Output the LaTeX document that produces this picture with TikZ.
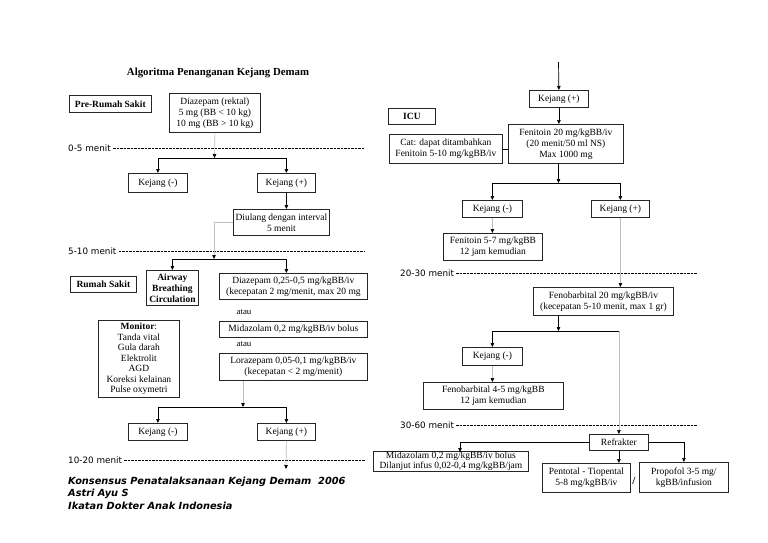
\documentclass[tikz,border=0pt]{standalone}
\usepackage{fontspec}
\setmainfont{Liberation Serif}
\newfontfamily\waktufont{DejaVu Sans}
\usetikzlibrary{positioning,arrows.meta}
\definecolor{abuabu}{gray}{0.75}

\begin{document}
\begin{tikzpicture}[x=1pt, y=-1pt,
    kotak/.style = {draw=black!85, line width=0.8pt, inner sep=1pt, align=center,
                    anchor=north west, font=\fontsize{9.5}{11}\selectfont},
    ukuran/.style 2 args = {minimum width=#1pt, minimum height=#2pt},
    tebal/.style = {font=\fontsize{9.5}{11}\selectfont\bfseries},
    waktu/.style = {anchor=west, inner sep=0pt, font=\waktufont\fontsize{8.8}{10}\selectfont},
    kaki/.style = {anchor=west, inner sep=0pt, font=\waktufont\fontsize{9.8}{11}\selectfont\bfseries\itshape},
    batas/.style = {dash pattern=on 2.5pt off 1pt, line width=0.6pt},
    garis/.style = {line width=0.7pt},
    panah/.style = {line width=0.7pt, -{Triangle[length=4pt,width=3.5pt]}},
    abu/.style = {line width=0.7pt, draw=abuabu, -{Triangle[length=4pt,width=3.5pt,color=black]}},
  ]
    \fill[white] (0,0) rectangle (768,543);
    \useasboundingbox (0,0) rectangle (768,543);

    \node[font=\fontsize{10.8}{12}\selectfont\bfseries] (judul) at (218,73) {Algoritma Penanganan Kejang Demam};

    % kolom kiri
    \node[kotak, tebal, ukuran={82}{17}] (pra) at (69,95) {Pre-Rumah Sakit};
    \node[kotak, ukuran={91}{39}] (diazR) at (169,93) {Diazepam (rektal)\\5 mg (BB < 10 kg)\\10 mg (BB > 10 kg)};
    \node[kotak, ukuran={59}{19}] (kjA1) at (128,173) {Kejang (-)};
    \node[kotak, ukuran={58}{19}] (kjA2) at (257,173) {Kejang (+)};
    \node[kotak, ukuran={96}{26}] (ulang) at (233,209) {Diulang dengan interval\\5 menit};
    \node[kotak, tebal, ukuran={66}{16}] (rs) at (70,276) {Rumah Sakit};
    \node[kotak, tebal, ukuran={52}{35}] (abc) at (146,270) {Airway\\Breathing\\Circulation};
    \node[kotak, ukuran={148}{26}] (diazIV) at (219,273) {Diazepam 0,25-0,5 mg/kgBB/iv\\(kecepatan 2 mg/menit, max 20 mg};
    \node[font=\fontsize{8.8}{10}\selectfont] (atau1) at (244,312) {atau};
    \node[kotak, ukuran={148}{16}] (mida) at (219,321) {Midazolam 0,2 mg/kgBB/iv bolus};
    \node[font=\fontsize{8.8}{10}\selectfont] (atau2) at (244,344) {atau};
    \node[kotak, ukuran={148}{27}] (lora) at (219,353) {Lorazepam 0,05-0,1 mg/kgBB/iv\\(kecepatan < 2 mg/menit)};
    \node[kotak, ukuran={81}{77}, font=\fontsize{9.5}{10.5}\selectfont] (monitor) at (98,320)
      {\textbf{Monitor}:\\Tanda vital\\Gula darah\\Elektrolit\\AGD\\Koreksi kelainan\\Pulse oxymetri};
    \node[kotak, ukuran={59}{17}] (kjB1) at (128,423) {Kejang (-)};
    \node[kotak, ukuran={58}{17}] (kjB2) at (257,423) {Kejang (+)};

    % kolom kanan
    \node[kotak, tebal, ukuran={47}{16}] (icu) at (388,108) {ICU};
    \node[kotak, ukuran={59}{17}] (kjC) at (529,90) {Kejang (+)};
    \node[kotak, ukuran={115}{39}] (fen20) at (508,124) {Fenitoin 20 mg/kgBB/iv\\(20 menit/50 ml NS)\\Max 1000 mg};
    \node[kotak, ukuran={113}{29}] (cat) at (389,134) {Cat: dapat ditambahkan\\Fenitoin 5-10 mg/kgBB/iv};
    \node[kotak, ukuran={60}{17}] (kjD1) at (462,200) {Kejang (-)};
    \node[kotak, ukuran={58}{17}] (kjD2) at (591,200) {Kejang (+)};
    \node[kotak, ukuran={99}{27}] (fen57) at (443,233) {Fenitoin 5-7 mg/kgBB\\12 jam kemudian};
    \node[kotak, ukuran={140}{28}] (feno20) at (533,287) {Fenobarbital 20 mg/kgBB/iv\\(kecepatan 5-10 menit, max 1 gr)};
    \node[kotak, ukuran={60}{18}] (kjE1) at (462,347) {Kejang (-)};
    \node[kotak, ukuran={140}{27}] (feno45) at (423,382) {Fenobarbital 4-5 mg/kgBB\\12 jam kemudian};
    \node[kotak, ukuran={59}{16}] (refr) at (589,434) {Refrakter};
    \node[kotak, ukuran={155}{20}, inner ysep=0.5pt, font=\fontsize{9.5}{10}\selectfont] (midaR) at (373,451)
      {Midazolam 0,2 mg/kgBB/iv bolus\\Dilanjut infus 0,02-0,4 mg/kgBB/jam};
    \node[kotak, ukuran={88}{29}] (pento) at (542,463) {Pentotal - Tiopental\\5-8 mg/kgBB/iv};
    \node[kotak, ukuran={89}{30}] (propo) at (639,462) {Propofol 3-5 mg/\\kgBB/infusion};
    \node[font=\fontsize{11}{12}\selectfont\bfseries] (garing) at (634,481) {/};

    % batas waktu
    \coordinate (ujungKiri) at (365,0);
    \coordinate (ujungKanan) at (697,0);
    \node[waktu] (t05) at (68,148) {0-5 menit};
    \node[waktu] (t510) at (68,251) {5-10 menit};
    \node[waktu] (t1020) at (68,460) {10-20 menit};
    \node[waktu] (t2030) at (400,273) {20-30 menit};
    \node[waktu] (t3060) at (400,425) {30-60 menit};
    \draw[batas] ([xshift=2pt]t05.east) -- (t05.east -| ujungKiri);
    \draw[batas] ([xshift=2pt]t510.east) -- (t510.east -| ujungKiri);
    \draw[batas] ([xshift=2pt]t1020.east) -- (t1020.east -| ujungKiri);
    \draw[batas] ([xshift=2pt]t2030.east) -- (t2030.east -| ujungKanan);
    \draw[batas] ([xshift=2pt]t3060.east) -- (t3060.east -| ujungKanan);

    % titik cabang
    \coordinate (c1) at (214.5,158);
    \coordinate (c2) at (214,259);
    \coordinate (c3) at (243,407);
    \coordinate (c4) at (286,469);
    \coordinate (atas) at (558.5,62);
    \coordinate (c5) at (558.5,183);
    \coordinate (c6) at (558.5,331);
    \coordinate (c7) at (460,452);

    \draw[abu] (diazR.south) -- (c1);
    \draw[panah] (c1) -| (kjA1.north);
    \draw[panah] (c1) -| (kjA2.north);
    \draw[panah] (kjA2.south) -- (kjA2.south |- ulang.north);
    \draw[abu] (ulang.west) -| (c2);
    \draw[panah] (c2) -| (abc.north);
    \draw[panah] (c2) -| (kjA2.south |- diazIV.north);
    \draw[abu] (c3 |- lora.south) -- (c3);
    \draw[panah] (c3) -| (kjB1.north);
    \draw[panah] (c3) -| (kjB2.north);
    \draw[abu] (kjB2.south) -- (c4);

    \draw[panah] (atas) -- (kjC.north);
    \draw[panah] (kjC.south) -- (kjC.south |- fen20.north);
    \draw[garis] (cat.east) -- (cat.east -| fen20.west);
    \draw[panah] (c5 |- fen20.south) -- (c5);
    \draw[panah] (c5) -| (kjD1.north);
    \draw[panah] (c5) -| (kjD2.north);
    \draw[abu] (kjD1.south) -- (kjD1.south |- fen57.north);
    \draw[abu] (kjD2.south) -- (kjD2.south |- feno20.north);
    \draw[panah] (c6 |- feno20.south) -- (c6);
    \draw[panah] (c6) -| (kjE1.north);
    \draw[garis] (c6) -- (c6 -| refr.north);
    \draw[abu] (c6 -| refr.north) -- (refr.north);
    \draw[abu] (kjE1.south) -- (kjE1.south |- feno45.north);
    \draw[panah] (refr.west) -| (c7);
    \draw[panah] (refr.south) -- (refr.south |- pento.north);
    \draw[panah] (refr.east) -| (propo.north);

    \node[kaki] (kaki1) at (68,482) {Konsensus Penatalaksanaan Kejang Demam~ 2006};
    \node[kaki] (kaki2) at (68,494) {Astri Ayu S};
    \node[kaki] (kaki3) at (68,506) {Ikatan Dokter Anak Indonesia};
\end{tikzpicture}
\end{document}
